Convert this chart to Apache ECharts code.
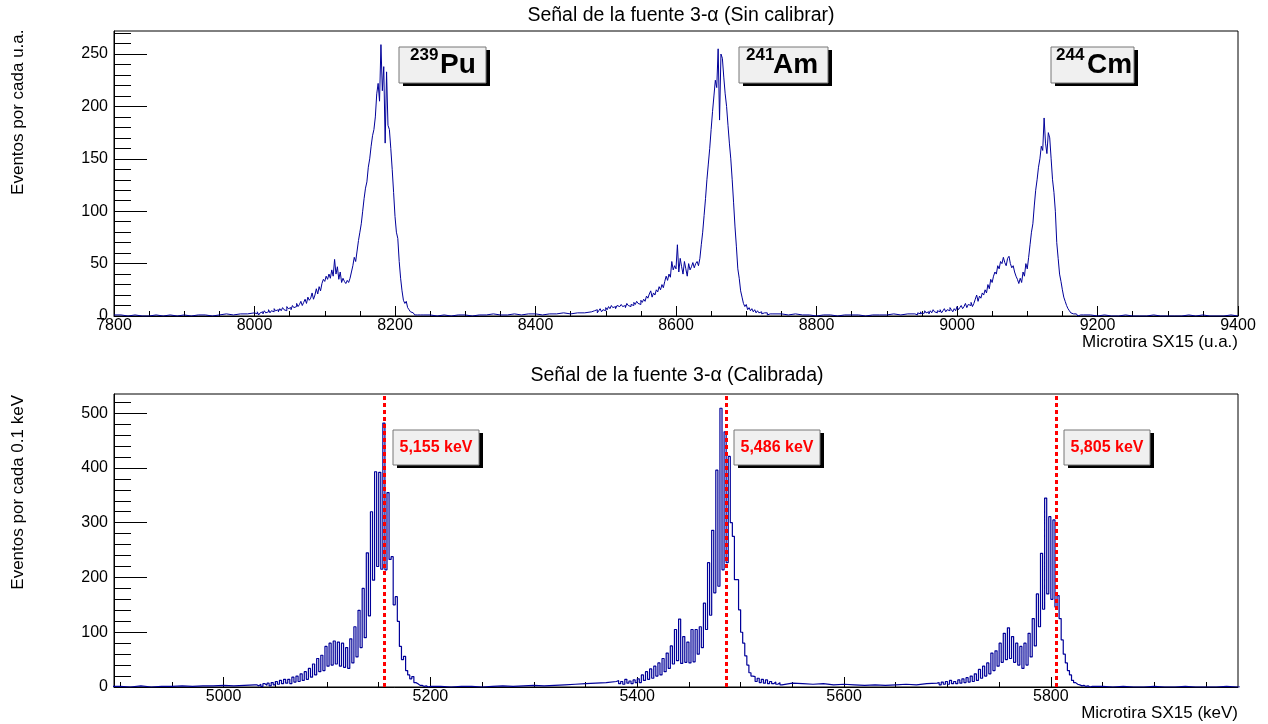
<!DOCTYPE html>
<html>
<head>
<meta charset="utf-8">
<title>Señal de la fuente 3-α</title>
<script src="https://cdn.jsdelivr.net/npm/echarts@6.0.0/dist/echarts.min.js"></script>
<style>
  html, body { margin: 0; background: #fff; }
  #grafica { width: 1268px; height: 724px; }
</style>
</head>
<body>
<div id="grafica"></div>
<script>
// ---------------- datos: histograma sin calibrar (cuentas por canal) ----------------
const fondoTopA = [1, 0, 1, 0, 0, 1, 0, 1, 0, 1, 0, 1, 1, 0, 1, 2, 1, 2, 2, 3]; // 7800-8000, bins de 10
const puTop = [ // 8000-8240, bins de 2
  3, 2, 4, 1, 3, 4, 2, 5, 3, 4, 6, 3, 5, 4, 7, 5, 6, 4, 7, 5,
  8, 6, 5, 9, 7, 8, 6, 10, 8, 9, 12, 9, 11, 14, 10, 13, 16, 12, 18, 15,
  17, 22, 16, 20, 26, 21, 28, 24, 31, 35, 33, 38, 35, 40, 36, 44, 38, 54, 40, 47,
  35, 42, 32, 36, 33, 31, 34, 32, 36, 42, 48, 56, 52, 62, 72, 80, 88, 100, 112, 122,
  128, 142, 150, 162, 172, 178, 190, 212, 222, 205, 259, 215, 238, 165, 233, 182, 178, 160, 140, 118,
  95, 80, 74, 52, 36, 24, 15, 12, 14, 8, 6, 4, 3, 2, 1, 1, 0, 1, 0, 1
];
const fondoTopB = [1, 0, 1, 0, 1, 1, 0, 1, 1, 2, 1, 1, 2, 1, 2, 2, 1, 2, 2, 3, 2, 3, 3, 4]; // 8240-8480
const amTop = [ // 8480-8740, bins de 2
  3, 5, 4, 6, 3, 5, 7, 4, 6, 5, 8, 6, 9, 7, 10, 8, 9, 7, 10, 9,
  8, 11, 9, 10, 8, 12, 10, 9, 11, 10, 13, 11, 14, 12, 11, 15, 13, 16, 14, 19,
  17, 21, 24, 18, 22, 20, 25, 23, 28, 25, 30, 27, 33, 38, 34, 40, 37, 52, 44, 48,
  45, 68, 42, 55, 47, 40, 52, 45, 38, 50, 44, 47, 51, 46, 50, 52, 48, 55, 68, 80,
  96, 112, 130, 145, 160, 178, 195, 210, 225, 218, 255, 187, 250, 246, 228, 212, 200, 182, 165, 150,
  130, 108, 85, 66, 45, 36, 24, 18, 12, 9, 11, 6, 8, 5, 7, 4, 6, 3, 5, 3,
  4, 2, 3, 2, 3, 1, 2, 1, 2, 1
];
const fondoTopC = [2, 1, 2, 1, 1, 0, 1, 1, 0, 1, 1, 1, 0, 1, 1, 1, 2, 1, 2, 2]; // 8740-8940
const cmTop = [ // 8940-9180, bins de 2
  2, 1, 3, 2, 4, 2, 3, 5, 3, 4, 2, 5, 3, 6, 4, 3, 5, 4, 6, 3,
  5, 7, 4, 6, 5, 8, 6, 4, 7, 5, 9, 6, 8, 10, 7, 9, 12, 8, 11, 10,
  13, 9, 12, 16, 20, 14, 19, 17, 22, 20, 25, 22, 30, 26, 35, 32, 38, 42, 40, 48,
  45, 52, 50, 56, 51, 48, 55, 57, 50, 46, 48, 42, 38, 35, 31, 36, 32, 42, 38, 50,
  45, 56, 68, 80, 88, 105, 120, 130, 142, 150, 162, 158, 189, 165, 155, 175, 170, 150, 130, 118,
  100, 70, 55, 40, 33, 25, 18, 14, 10, 7, 5, 3, 2, 1, 2, 1, 0, 1, 0, 1
];
const fondoTopD = [1, 0, 1, 0, 0, 1, 0, 0, 0, 1, 0, 0, 0, 0, 1, 0, 1, 0, 0, 0, 1, 0]; // 9180-9400

// ---------------- datos: histograma calibrado (keV) ----------------
const fondoBotA = [1, 0, 2, 0, 1, 1, 2, 1, 2, 2, 3, 2, 3, 4]; // 4890-5030, bins de 10
const puBot = [ // 5030-5200, bins de 2
  4, 2, 5, 1, 6, 3, 7, 2, 8, 4, 10, 5, 12, 6, 14, 7, 14, 6, 18, 9,
  20, 10, 24, 12, 28, 14, 34, 18, 42, 22, 52, 28, 58, 30, 74, 38, 80, 40, 84, 42,
  82, 38, 80, 36, 72, 34, 88, 44, 110, 55, 140, 72, 180, 90, 245, 130, 320, 195, 393, 220,
  392, 215, 482, 214, 355, 233, 238, 150, 165, 120, 74, 50, 56, 30, 22, 15, 19, 8, 6, 3,
  3, 1, 2, 0, 1
];
const fondoBotB = [1, 0, 1, 1, 0, 1, 2, 1, 2, 3, 2, 3, 4, 5, 6, 7, 8, 10]; // 5200-5380
const amBot = [ // 5380-5540, bins de 2
  12, 6, 10, 5, 14, 7, 11, 6, 13, 8, 15, 8, 22, 12, 28, 14, 33, 16, 38, 20,
  44, 22, 52, 28, 62, 34, 75, 42, 105, 48, 124, 43, 92, 45, 82, 44, 105, 46, 105, 60,
  110, 72, 153, 105, 227, 131, 286, 172, 396, 184, 509, 214, 466, 227, 421, 300, 275, 196, 196, 141,
  100, 80, 57, 40, 26, 20, 19, 10, 16, 8, 14, 7, 13, 6, 10, 6, 9, 5, 8, 4
];
const fondoBotC = [7, 6, 5, 6, 4, 5, 4, 3, 4, 3, 4, 5, 4, 6, 7]; // 5540-5690
const cmBot = [ // 5690-5840, bins de 2
  8, 4, 9, 5, 10, 5, 12, 6, 10, 6, 13, 7, 15, 8, 17, 9, 20, 10, 24, 12,
  32, 16, 38, 20, 44, 24, 62, 30, 66, 38, 80, 45, 98, 50, 108, 52, 92, 45, 80, 40,
  74, 34, 80, 40, 98, 55, 125, 75, 170, 110, 244, 142, 345, 170, 311, 160, 305, 146, 167, 125,
  86, 60, 44, 30, 22, 12, 8, 5, 4, 2, 3, 1, 2, 0, 1
];
const fondoBotD = [1, 0, 1, 0, 0, 1, 0, 0, 1, 0, 0, 0, 1, 0, 0]; // 5840-5990

// picos e isótopos
const isotopoMasa = ["239", "241", "244"];
const isotopoSimbolo = ["Pu", "Am", "Cm"];
const energiasPico = [5155, 5486, 5805];
const etiquetasEnergia = ["5,155 keV", "5,486 keV", "5,805 keV"];

// marcas de los ejes
const xTopMarcas = [7800, 8000, 8200, 8400, 8600, 8800, 9000, 9200, 9400];
const yTopMarcas = [0, 50, 100, 150, 200, 250];
const xBotMarcas = [5000, 5200, 5400, 5600, 5800];
const yBotMarcas = [0, 100, 200, 300, 400, 500];

const tramosTop = [
  { inicio: 7800, ancho: 10, cuentas: fondoTopA },
  { inicio: 8000, ancho: 2, cuentas: puTop },
  { inicio: 8240, ancho: 10, cuentas: fondoTopB },
  { inicio: 8480, ancho: 2, cuentas: amTop },
  { inicio: 8740, ancho: 10, cuentas: fondoTopC },
  { inicio: 8940, ancho: 2, cuentas: cmTop },
  { inicio: 9180, ancho: 10, cuentas: fondoTopD }
];
const tramosBot = [
  { inicio: 4890, ancho: 10, cuentas: fondoBotA },
  { inicio: 5030, ancho: 2, cuentas: puBot },
  { inicio: 5200, ancho: 10, cuentas: fondoBotB },
  { inicio: 5380, ancho: 2, cuentas: amBot },
  { inicio: 5540, ancho: 10, cuentas: fondoBotC },
  { inicio: 5690, ancho: 2, cuentas: cmBot },
  { inicio: 5840, ancho: 10, cuentas: fondoBotD }
];

// cada bin -> dos puntos (borde izq. y der.), asi la linea queda en escalones
function histograma(tramos) {
  const puntos = [];
  tramos.forEach(t => {
    t.cuentas.forEach((c, i) => {
      const x0 = t.inicio + i * t.ancho;
      puntos.push([x0, c], [x0 + t.ancho, c]);
    });
  });
  return puntos;
}

function marcas(desde, hasta, paso) {
  const v = [];
  for (let x = desde; x <= hasta; x += paso) v.push(x);
  return v;
}

const fuente = "Liberation Sans, Arial, Helvetica, sans-serif";
const azul = "#000099";

function ejeX(grid, min, max, valores, largo, etiquetas) {
  return {
    type: "value", gridIndex: grid, min: min, max: max, position: "bottom",
    axisLine: { show: etiquetas, lineStyle: { color: "#000", width: 1 } },
    axisTick: { show: true, inside: true, length: largo, customValues: valores, lineStyle: { color: "#000" } },
    axisLabel: etiquetas
      ? { show: true, customValues: valores, formatter: v => String(v), fontSize: 16, color: "#000", fontFamily: fuente, margin: 2 }
      : { show: false },
    splitLine: { show: false }
  };
}
function ejeY(grid, min, max, valores, largo, etiquetas) {
  return {
    type: "value", gridIndex: grid, min: min, max: max, position: "left",
    axisLine: { show: etiquetas, lineStyle: { color: "#000", width: 1 } },
    axisTick: { show: true, inside: true, length: largo, customValues: valores, lineStyle: { color: "#000" } },
    axisLabel: etiquetas
      ? { show: true, customValues: valores, formatter: v => String(v), fontSize: 16, color: "#000", fontFamily: fuente, margin: 6 }
      : { show: false },
    splitLine: { show: false }
  };
}

// cajas de texto tipo TPaveText
function caja(x, y, w, h) {
  return [
    { type: "rect", shape: { x: x + 4, y: y + 3, width: w, height: h }, style: { fill: "#000" } },
    { type: "rect", shape: { x: x, y: y, width: w, height: h }, style: { fill: "#f0f0f0", stroke: "#777", lineWidth: 1 } }
  ];
}
function texto(x, y, t, size, extra) {
  return {
    type: "text", x: x, y: y,
    style: Object.assign({
      text: t, fontSize: size, fontFamily: fuente, fontWeight: "normal",
      fill: "#000", align: "left", verticalAlign: "middle"
    }, extra || {})
  };
}

const cajasTop = [
  { x: 399, w: 87, masaX: 410, simX: 440 },
  { x: 739, w: 89, masaX: 746, simX: 773 },
  { x: 1051, w: 83, masaX: 1056, simX: 1087 }
];
const cajasBot = [{ x: 393, w: 86 }, { x: 734, w: 86 }, { x: 1064, w: 86 }];

const graficos = [];
graficos.push(texto(681, 16, "Señal de la fuente 3-α (Sin calibrar)", 19.5, { align: "center" }));
graficos.push(texto(677, 376, "Señal de la fuente 3-α (Calibrada)", 19.5, { align: "center" }));
graficos.push(texto(1238, 342.5, "Microtira SX15 (u.a.)", 17, { align: "right" }));
graficos.push(texto(1238, 713, "Microtira SX15 (keV)", 17, { align: "right" }));
graficos.push(Object.assign(texto(18, 29.5, "Eventos por cada u.a.", 17, { align: "right" }), { rotation: Math.PI / 2 }));
graficos.push(Object.assign(texto(18, 395, "Eventos por cada 0.1 keV", 17, { align: "right" }), { rotation: Math.PI / 2 }));

cajasTop.forEach((c, i) => {
  caja(c.x, 47, c.w, 36).forEach(e => graficos.push(e));
  graficos.push(texto(c.masaX, 55, isotopoMasa[i], 17, { fontWeight: "bold" }));
  graficos.push(texto(c.simX, 65, isotopoSimbolo[i], 28, { fontWeight: "bold" }));
});
cajasBot.forEach((c, i) => {
  caja(c.x, 430, c.w, 35).forEach(e => graficos.push(e));
  graficos.push(texto(c.x + c.w / 2, 447.5, etiquetasEnergia[i], 16, { align: "center", fill: "#ff0000", fontWeight: "bold" }));
});

const chart = echarts.init(document.getElementById("grafica"));
const option = {
  animation: false,
  backgroundColor: "#fff",
  grid: [
    { left: 114, right: 30, top: 31, bottom: 408, show: true, borderColor: "#000", borderWidth: 1 },
    { left: 114, right: 30, top: 394, bottom: 37, show: true, borderColor: "#000", borderWidth: 1 }
  ],
  xAxis: [
    ejeX(0, 7800, 9400, xTopMarcas, 10, true),
    ejeX(0, 7800, 9400, marcas(7800, 9400, 50), 5, false),
    ejeX(1, 4894, 5981, xBotMarcas, 10, true),
    ejeX(1, 4894, 5981, marcas(4900, 5950, 50), 5, false)
  ],
  yAxis: [
    ejeY(0, 0, 272, yTopMarcas, 33, true),
    ejeY(0, 0, 272, marcas(0, 270, 10), 17, false),
    ejeY(1, 0, 535, yBotMarcas, 33, true),
    ejeY(1, 0, 535, marcas(0, 520, 20), 17, false)
  ],
  series: [
    {
      type: "line", xAxisIndex: 0, yAxisIndex: 0, data: histograma(tramosTop),
      showSymbol: false, symbol: "none", lineStyle: { color: azul, width: 1 }
    },
    {
      type: "line", xAxisIndex: 2, yAxisIndex: 2, data: histograma(tramosBot),
      showSymbol: false, symbol: "none", lineStyle: { color: azul, width: 1.2 },
      markLine: {
        silent: true, symbol: ["none", "none"], label: { show: false },
        lineStyle: { color: "#ff0000", width: 3, type: [4, 3], opacity: 1 },
        emphasis: { disabled: true },
        data: energiasPico.map(e => ({ xAxis: e }))
      }
    }
  ],
  graphic: graficos
};
chart.setOption(option);
</script>
</body>
</html>
